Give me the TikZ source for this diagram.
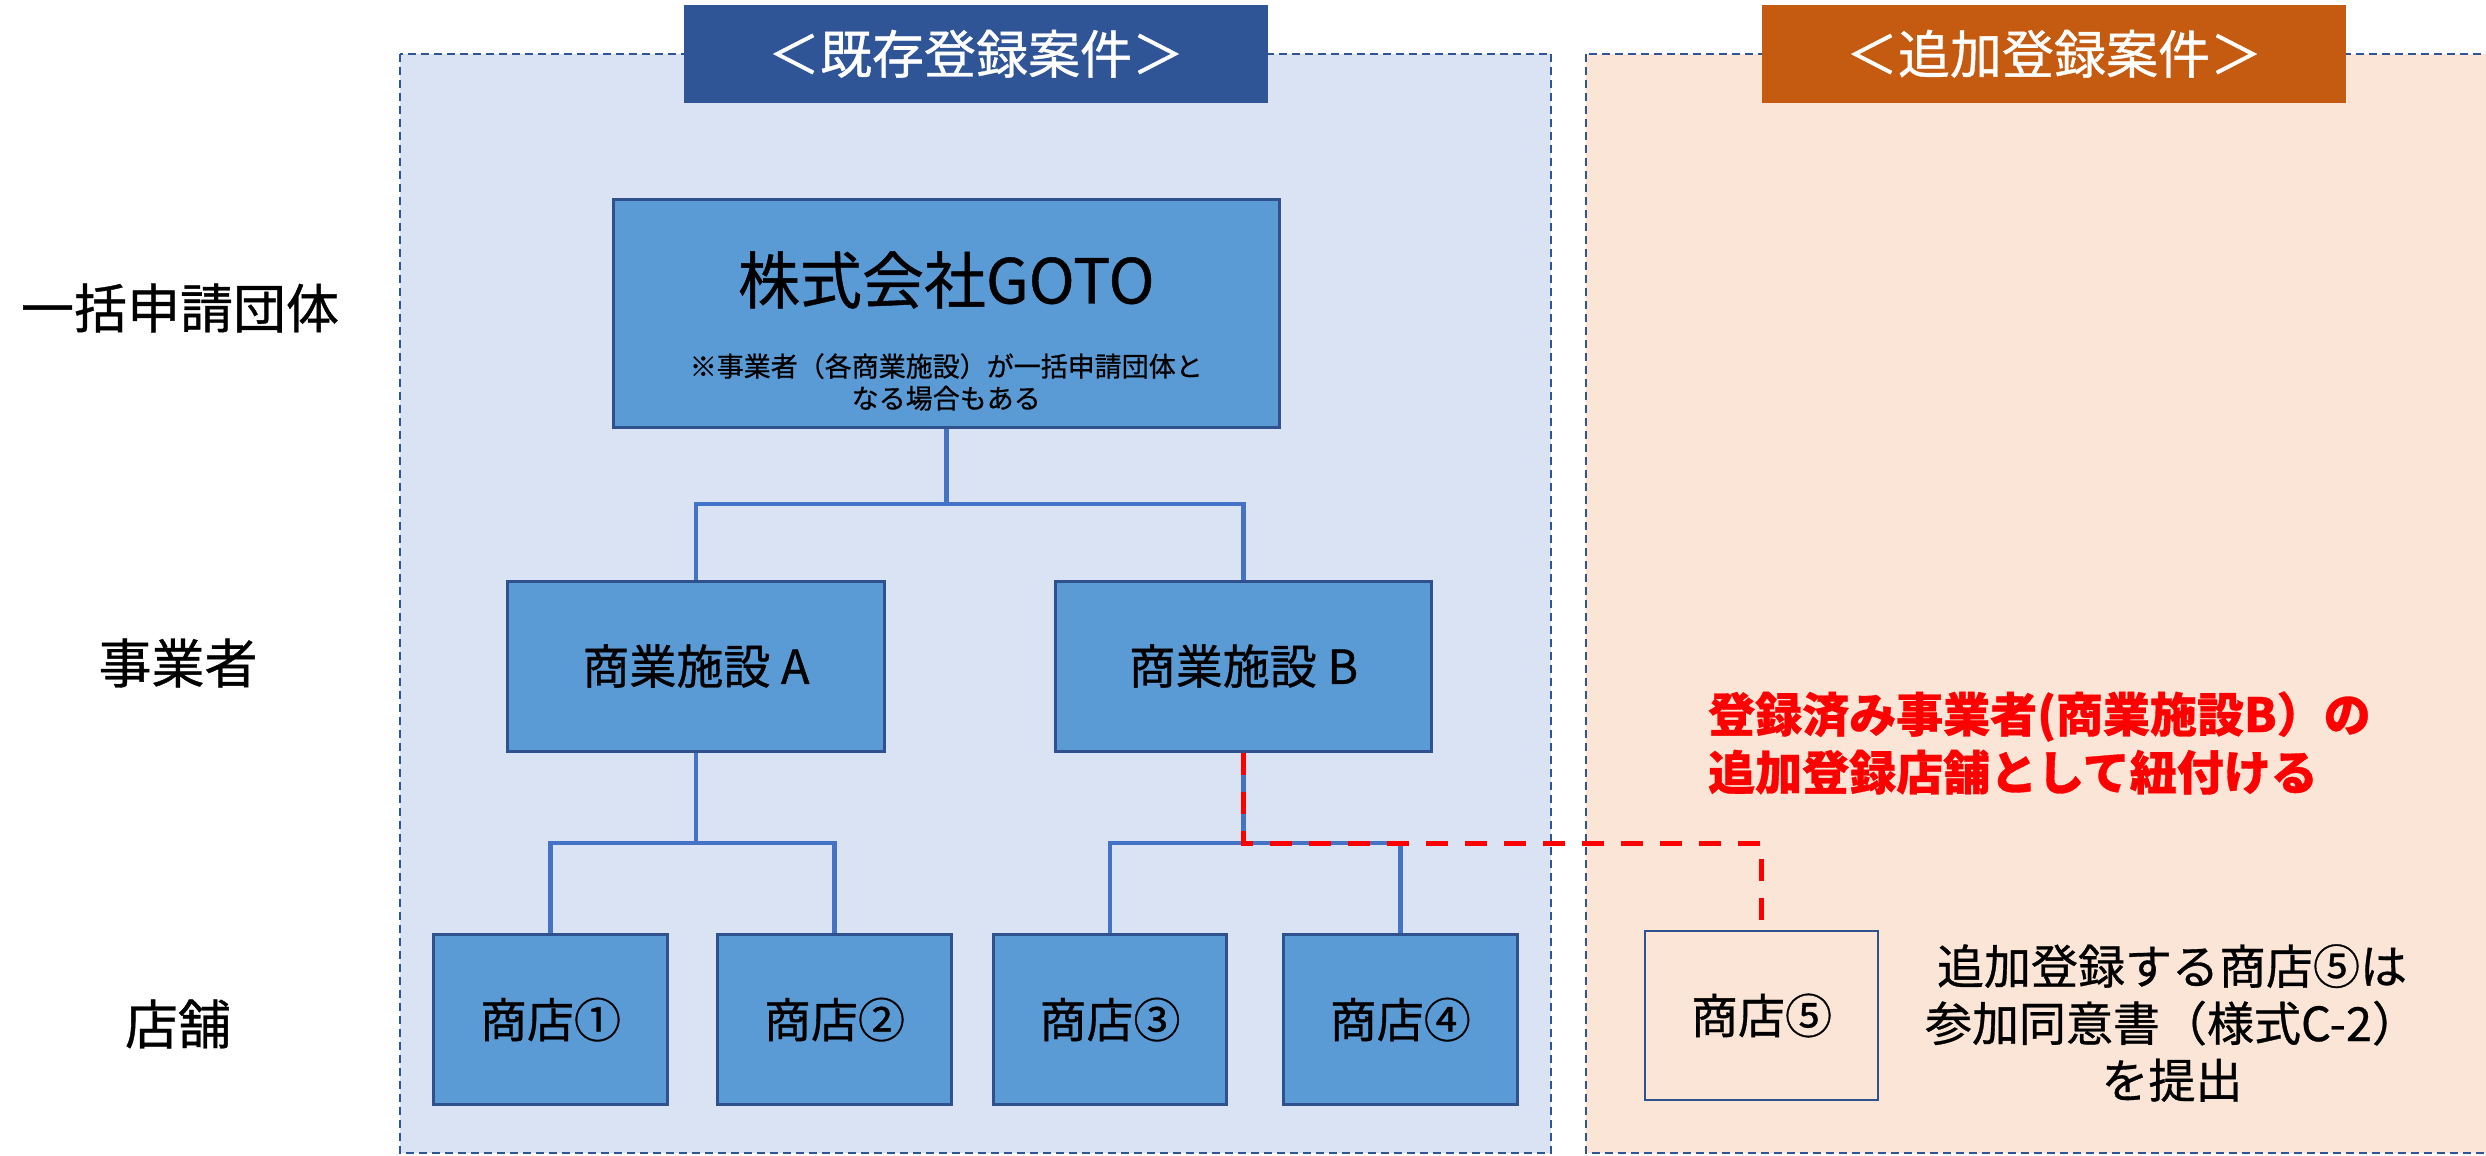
\documentclass[tikz,border=0pt]{standalone}
\usepackage{fontspec}
\setmainfont{Noto Sans CJK JP}[FakeBold=0.7]
\definecolor{panelLfill}{HTML}{DAE3F3}
\definecolor{panelRfill}{HTML}{FBE5D6}
\definecolor{panelborder}{HTML}{2F5597}
\definecolor{titleblue}{HTML}{2F5597}
\definecolor{titleorange}{HTML}{C55A11}
\definecolor{boxfill}{HTML}{5B9BD5}
\definecolor{boxborder}{HTML}{2F528F}
\definecolor{connblue}{HTML}{4472C4}
\definecolor{linkred}{HTML}{FF0000}
\tikzset{
  panelbox/.style={draw=panelborder, line width=2pt, dash pattern=on 8pt off 5pt},
  titlebox/.style={inner sep=0pt, minimum width=584pt, minimum height=97.6pt, text=white, font=\fontsize{52}{60}\selectfont},
  orgbox/.style={draw=boxborder, line width=3pt, fill=boxfill, inner sep=0pt},
  shopbox/.style={orgbox, minimum width=233.5pt, minimum height=170pt, font=\fontsize{47}{56}\selectfont},
  facbox/.style={orgbox, minimum width=376.5pt, minimum height=170pt, font=\fontsize{47}{56}\selectfont},
  rowlabel/.style={inner sep=0pt, font=\fontsize{53}{60}\selectfont},
  connline/.style={draw=connblue, line width=4.5pt},
  redlink/.style={draw=linkred, line width=5pt, dash pattern=on 22pt off 17pt},
}
\begin{document}
\begin{tikzpicture}[x=1pt, y=-1pt]
\useasboundingbox (0,0) rectangle (2486,1156);
\fill[white] (0,0) rectangle (2486,1156);
\begin{scope}
\clip (0,0) rectangle (2486,1156);
% panels
\fill[panelLfill] (400,53.6) rectangle (1551,1153);
\draw[panelbox] (400,53.6) rectangle (1551,1153);
\fill[panelRfill] (1586,53.6) rectangle (2520,1153);
\draw[panelbox] (1586,53.6) rectangle (2520,1153);
\end{scope}
% titles
\node[titlebox, fill=titleblue] (tleft) at (976,53.8) {＜既存登録案件＞};
\node[titlebox, fill=titleorange] (tright) at (2054,53.8) {＜追加登録案件＞};
% row labels
\node[rowlabel] (lab1) at (180,308) {一括申請団体};
\node[rowlabel] (lab2) at (178,663) {事業者};
\node[rowlabel] (lab3) at (178,1024) {店舗};
% top organisation
\node[orgbox, minimum width=665.5pt, minimum height=228pt] (goto) at (946.25,313) {};
\node[inner sep=0pt, font=\fontsize{62}{70}\selectfont] (gototitle) at (946.25,280) {株式会社GOTO};
\node[inner sep=0pt, align=center, font=\fontsize{27}{32}\selectfont] (gotonote) at (946.25,382) {※事業者（各商業施設）が一括申請団体と\\なる場合もある};
% facilities
\node[facbox] (A) at (696,666) {商業施設 A};
\node[facbox] (B) at (1243.5,666) {商業施設 B};
% shops
\node[shopbox] (s1) at (550.5,1019.6) {商店①};
\node[shopbox] (s2) at (834.5,1019.6) {商店②};
\node[shopbox] (s3) at (1110,1019.6) {商店③};
\node[shopbox] (s4) at (1400.3,1019.6) {商店④};
\node[draw=boxborder, line width=2.5pt, inner sep=0pt, minimum width=233pt, minimum height=169pt, font=\fontsize{47}{56}\selectfont] (s5) at (1761.5,1015.5) {商店⑤};
% junctions
\coordinate (j1) at (946.25,504);
\coordinate (j2) at (696,843);
\coordinate (j3) at (1243.5,843);
% connectors
\draw[connline] (goto.south) -- (j1);
\draw[connline] (A.north) |- (j1) -| (B.north);
\draw[connline] (A.south) -- (j2);
\draw[connline] (s1.north) |- (j2) -| (s2.north);
\draw[connline] (B.south) -- (j3);
\draw[connline] (s3.north) |- (j3) -| (s4.north);
\draw[redlink] (B.south) -- (j3) -| (s5.north);
% annotations
\node[inner sep=0pt, anchor=west, align=left, text=linkred, font=\bfseries\fontsize{47}{58}\selectfont] (note1) at (1708,743) {登録済み事業者(商業施設B）の\\追加登録店舗として紐付ける};
\node[inner sep=0pt, align=center, font=\fontsize{47}{57}\selectfont] (note2) at (2172,1023) {追加登録する商店⑤は\\参加同意書（様式C-2）\\を提出};
\end{tikzpicture}
\end{document}
